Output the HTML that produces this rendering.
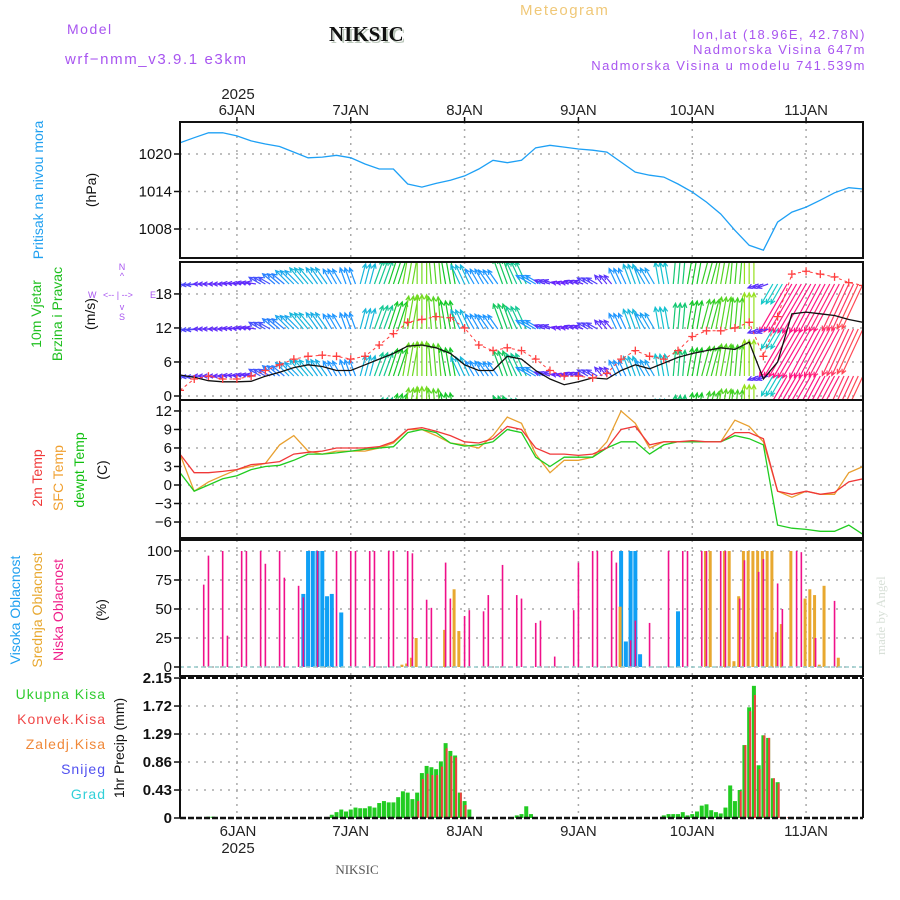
<!DOCTYPE html>
<html><head><meta charset="utf-8"><style>
body{margin:0;background:#fff}
svg{display:block;font-family:"Liberation Sans",sans-serif}
</style></head><body>
<svg id="c" width="900" height="900" viewBox="0 0 900 900" xmlns="http://www.w3.org/2000/svg">
<g>
<text x="67" y="34" font-size="14" fill="#a855f0" letter-spacing="1.5">Model</text>
<text x="65" y="64" font-size="15" fill="#a855f0" letter-spacing="1.6">wrf−nmm_v3.9.1 e3km</text>
<text x="331" y="43" font-size="21" font-weight="bold" font-family="Liberation Serif,serif" fill="#bcc8bc">NIKSIC</text>
<text x="329" y="41" font-size="21" font-weight="bold" font-family="Liberation Serif,serif" fill="#111">NIKSIC</text>
<text x="520" y="15" font-size="15" fill="#f0c878" letter-spacing="1.5">Meteogram</text>
<text x="866" y="39" font-size="13" fill="#a855f0" text-anchor="end" letter-spacing="1.5">lon,lat (18.96E, 42.78N)</text>
<text x="866" y="54" font-size="13" fill="#a855f0" text-anchor="end" letter-spacing="1.5">Nadmorska Visina 647m</text>
<text x="866" y="70" font-size="13" fill="#a855f0" text-anchor="end" letter-spacing="1.5">Nadmorska Visina u modelu 741.539m</text>
<text x="238" y="99" font-size="15" fill="#222" text-anchor="middle">2025</text>
<text x="238" y="836" font-size="15" fill="#222" text-anchor="middle">6JAN</text>
<text x="238" y="853" font-size="15" fill="#222" text-anchor="middle">2025</text>
<text x="357" y="874" font-size="13" font-family="Liberation Serif,serif" fill="#555" text-anchor="middle">NIKSIC</text>
<text transform="translate(885,655) rotate(-90)" font-size="13" font-family="Liberation Serif,serif" fill="#d8e0d8">made by Angel</text>
</g>
<g>
<text transform="translate(43,190) rotate(-90)" font-size="14" fill="#20a0f0" text-anchor="middle">Pritisak na nivou mora</text>
<text transform="translate(96,190) rotate(-90)" font-size="14" fill="#111" text-anchor="middle">(hPa)</text>
<text transform="translate(41,314) rotate(-90)" font-size="14" fill="#20c020" text-anchor="middle">10m Vjetar</text>
<text transform="translate(62,314) rotate(-90)" font-size="14" fill="#20c020" text-anchor="middle">Brzina i Pravac</text>
<text transform="translate(95,314) rotate(-90)" font-size="14" fill="#111" text-anchor="middle">(m/s)</text>
<g font-size="9" fill="#a855f0">
<text x="122" y="270" text-anchor="middle">N</text>
<text x="122" y="279" text-anchor="middle">^</text>
<text x="88" y="298">W</text>
<text x="103" y="298">&lt;-- | --&gt;</text>
<text x="150" y="298">E</text>
<text x="122" y="310" text-anchor="middle">v</text>
<text x="122" y="320" text-anchor="middle">S</text>
</g>
<text transform="translate(42,478) rotate(-90)" font-size="14" fill="#f03838" text-anchor="middle">2m Temp</text>
<text transform="translate(63,478) rotate(-90)" font-size="14" fill="#f0a030" text-anchor="middle">SFC Temp</text>
<text transform="translate(84,470) rotate(-90)" font-size="14" fill="#10c010" text-anchor="middle">dewpt Temp</text>
<text transform="translate(107,470) rotate(-90)" font-size="14" fill="#111" text-anchor="middle">(C)</text>
<text transform="translate(20,610) rotate(-90)" font-size="14" fill="#20a0f0" text-anchor="middle">Visoka Oblacnost</text>
<text transform="translate(42,610) rotate(-90)" font-size="14" fill="#e8a830" text-anchor="middle">Srednja Oblacnost</text>
<text transform="translate(63,610) rotate(-90)" font-size="14" fill="#f0208a" text-anchor="middle">Niska Oblacnost</text>
<text transform="translate(106,610) rotate(-90)" font-size="14" fill="#111" text-anchor="middle">(%)</text>
<g font-size="14" text-anchor="end" letter-spacing="1">
<text x="106" y="699" fill="#30cc30">Ukupna  Kisa</text>
<text x="106" y="724" fill="#f04848">Konvek.Kisa</text>
<text x="106" y="749" fill="#f08838">Zaledj.Kisa</text>
<text x="106" y="774" fill="#5050f0">Snijeg</text>
<text x="106" y="799" fill="#30d0d8">Grad</text>
</g>
<text transform="translate(124,748) rotate(-90)" font-size="14" fill="#111" text-anchor="middle">1hr Precip (mm)</text>
</g>
<g id="plot"></g>
</svg>
<script>
// ---- data (time index: hours since 5 JAN 12Z; 3-hourly arrays step 3h) ----
const dayLabels = ["6JAN","7JAN","8JAN","9JAN","10JAN","11JAN"];
const dayHours = [12,36,60,84,108,132];
const pressure = [1021.8,1022.6,1023.4,1023.4,1022.9,1022.1,1021.6,1021.2,1020.3,1019.4,1019.5,1019.8,1019.4,1018.4,1017.6,1017.6,1015.2,1014.7,1015.3,1015.8,1016.5,1017.6,1019.0,1018.6,1019.0,1021.0,1021.4,1021.1,1020.8,1020.6,1020.3,1018.7,1017.1,1016.6,1016.3,1015.2,1013.9,1012.3,1010.4,1007.8,1005.4,1004.6,1009.1,1010.7,1011.5,1012.6,1013.8,1014.6,1014.4];
const pressTicks = [1008,1014,1020];
const windSpeed = [3.7,3.3,2.7,2.5,2.5,2.6,3.5,4.2,5,5.5,5.2,4.5,4.5,5.5,6.5,7.5,8.8,9,8.5,7.5,5.5,4.5,4.5,7,6.5,4.5,3,2,2.5,3.2,3,4.5,5.5,4.8,5.8,6.8,7.5,8,8.5,8.2,9.5,3,6,14.5,14.8,14.5,14.2,13.5,13];
const windGust = [1,3,3.5,3,3,3.5,4.5,5.5,6.5,7,7.2,7,6.5,7,9,11,13,13.5,14,13.8,12,9,8,8.5,8,6.5,4.5,3.5,3.5,3.2,4,6.5,8,7,6.5,8,10.5,11.5,11.5,12,13,7,14,21.5,22,21.5,21,20,19.5];
const windDir = [185,185,180,180,175,170,150,140,135,130,125,120,110,75,70,72,80,90,95,100,115,120,125,110,115,150,160,165,160,150,130,115,110,120,100,85,80,75,80,85,90,200,240,240,240,242,242,245,245];
const windTicks = [0,6,12,18];
const temp2m = [5,2,2,2.2,2.5,3.3,3.5,3.8,5,5.3,5.5,6,6,6,6.2,7,9,9.3,8.7,8,7,6.8,7.5,9.5,9,6,5,5,4.8,5,6,9,9.5,6.5,7,7,7.2,7,7,8.5,8.5,7.5,-1,-1.5,-1,-1.5,-1.2,0.5,1];
const tempSfc = [5,-1,0.5,1.5,2.5,3,3.5,6.5,8,5.5,5,5.5,5.5,5.5,6,6.8,9,9,8,6.8,6.5,6,8,11,10,5,2,4,4,4.5,7,12,10,6,7,7,7,7,7,10.5,9.5,7,-1,-2,-1,-1.5,-1.5,2,3];
const tempDew = [2,-1,0,1,1.5,2.5,3,3.2,4,5,5,5.2,5.5,5.8,6,6.2,8.5,9,8.5,6.8,6.3,6.5,7,9,8.5,4.5,3,4.5,4.5,4.5,6,7,7,5,6.5,7,7,7,7,8,7.5,6.5,-6.5,-7,-7.2,-7.5,-7.5,-6.5,-8];
const tempTicks = [-6,-3,0,3,6,9,12];
const lowCloudH = [5,6,9,10,13,14,17,18,21,22,25,26,29,33,36,37,40,41,44,45,48,49,52,53,56,57,60,61,64,65,68,71,72,75,76,79,83,84,87,88,91,92,95,96,99,103,106,107,110,111,114,115,118,119,122,123,126,127,130,131,134,138];
const lowCloudV = [71,96,100,27,100,100,100,89,100,77,70,60,100,100,100,100,100,100,100,100,100,98,58,51,90,59,44,49,48,62,88,62,59,38,40,9,49,90,100,100,100,90,23,40,38,100,100,100,100,100,100,100,59,92,82,93,72,50,100,99,25,57];
const midCloudH = [47,48,49,50,56,58,59,93,111,112,115,116,117,118,119,120,121,122,123,124,125,126,127,129,132,133,134,135,136,139];
const midCloudV = [2,3,8,25,32,67,31,52,100,100,100,100,5,61,100,100,100,100,100,100,100,30,37,100,59,67,62,2,70,8];
const highCloudH = [26,27,28,29,30,31,32,34,93,94,95,96,97,105];
const highCloudV = [63,100,100,100,100,61,63,47,100,22,100,100,11,48];
const cloudTicks = [0,25,50,75,100];
const precipH = [6,7,32,33,34,35,36,37,38,39,40,41,42,43,44,45,46,47,48,49,50,51,52,53,54,55,56,57,58,59,60,61,71,72,73,74,102,103,104,105,106,107,108,109,110,111,112,113,114,115,116,117,118,119,120,121,122,123,124,125,126,127,128];
const precipTotal = [0.02,0.02,0.05,0.09,0.13,0.10,0.13,0.16,0.15,0.15,0.18,0.16,0.23,0.26,0.24,0.24,0.32,0.41,0.39,0.29,0.39,0.69,0.80,0.78,0.75,0.87,1.15,1.03,0.96,0.39,0.26,0.13,0.04,0.06,0.18,0.06,0.04,0.06,0.06,0.06,0.09,0.04,0.06,0.10,0.19,0.21,0.12,0.09,0.07,0.16,0.50,0.26,0.43,1.12,1.70,2.03,0.81,1.27,1.23,0.61,0.55,0,0];
const precipConv = [0,0,0,0,0,0,0,0,0,0,0,0,0,0,0,0,0,0,0,0.02,0.26,0.60,0.68,0.66,0.66,0.79,1.07,0.95,0.93,0.39,0.20,0,0,0,0,0,0,0,0,0,0,0,0,0,0,0,0,0,0,0,0,0,0.41,1.12,1.64,1.89,0.75,1.27,1.23,0.61,0.53,0.01,0.01];
const precipTicks = ["0","0.43","0.86","1.29","1.72","2.15"];

// ---- layout ----
const NS="http://www.w3.org/2000/svg";
const plot=document.getElementById('plot');
const X0=180,X1=863;
const xh=h=>X0+h*(X1-X0)/144;
const P1={t:122,b:258}, P2={t:262,b:400}, P3={t:400,b:538}, P4={t:540,b:676}, P5={t:678,b:818};
const yP=v=>154+(1020-v)*6.25;
const yW=v=>396-v*5.67;
const yT=v=>485-v*6.17;
const yC=v=>667-v*1.16;
const yR=v=>818-v*65.1;
function mk(tag,attrs,parent){const e=document.createElementNS(NS,tag);for(const k in attrs)e.setAttribute(k,attrs[k]);(parent||plot).appendChild(e);return e;}
function grid(p,ys,fmt,yf,name){
  const g=mk('g',{});
  
  
  dayHours.forEach(h=>{const l=mk('line',{x1:xh(h),x2:xh(h),y1:p.t,y2:p.b,stroke:'#aaa','stroke-width':1.5,'stroke-dasharray':'2,5'},g);
    
    });
  ys.forEach((v,i)=>{const y=yf(v);
    const l=mk('line',{x1:X0,x2:X1,y1:y,y2:y,stroke:'#aaa','stroke-width':1.5,'stroke-dasharray':'2,6'},g);
    
    
    mk('line',{x1:X0-6,x2:X0,y1:y,y2:y,stroke:'#111','stroke-width':1.5},g);
    const t=mk('text',{x:X0-8,y:y+5,'font-size':15,'text-anchor':'end',fill:'#111'},g);
    t.textContent=fmt(v,i);
    
    
  });
}
function frame(p,name){
  const r=mk('rect',{x:X0,y:p.t,width:X1-X0,height:p.b-p.t,fill:'none',stroke:'#111','stroke-width':2});
  
  
}
function clip(id,p){const d=mk('clipPath',{id:id});mk('rect',{x:X0,y:p.t,width:X1-X0,height:p.b-p.t},d);}
function linePath(arr,yf,color,name,parent){
  let d='';arr.forEach((v,i)=>{d+=(i?'L':'M')+xh(i*3).toFixed(1)+','+yf(v).toFixed(1);});
  const e=mk('path',{d:d,fill:'none',stroke:color,'stroke-width':1.3},parent);
  
  
  return e;
}
dayLabels.forEach((s,i)=>{
  const t=mk('text',{x:xh(dayHours[i]),y:115,'font-size':15,'text-anchor':'middle',fill:'#222'});
  t.textContent=s;
  
  
  mk('line',{x1:xh(dayHours[i]),x2:xh(dayHours[i]),y1:117,y2:122,stroke:'#111','stroke-width':1.5});
  if(i>0){const b=mk('text',{x:xh(dayHours[i]),y:836,'font-size':15,'text-anchor':'middle',fill:'#222'});
    b.textContent=s;
    
    }
});
// Panel 1 pressure
grid(P1,pressTicks,v=>String(v),yP,'pressure');
clip('c1',P1);
const g1=mk('g',{'clip-path':'url(#c1)'});
linePath(pressure,yP,'#1ea0f5','pressure-line',g1);
frame(P1,'pressure');
// Panel 2 wind
grid(P2,windTicks,v=>String(v),yW,'wind');
clip('c2',P2);
const g2=mk('g',{'clip-path':'url(#c2)'});


function spdColor(s){
  const st=[[0,[128,0,255]],[3,[90,50,250]],[4.5,[30,150,255]],[6,[20,200,200]],[7.5,[20,200,40]],[9.5,[150,225,30]],[11,[230,220,0]],[12.5,[255,90,70]],[14.5,[255,20,130]]];
  if(s<=st[0][0])return 'rgb('+st[0][1]+')';
  for(let i=1;i<st.length;i++){if(s<=st[i][0]){const f=(s-st[i-1][0])/(st[i][0]-st[i-1][0]);const a=st[i-1][1],b=st[i][1];return 'rgb('+a.map((v,k)=>Math.round(v+(b[k]-v)*f)).join(',')+')';}}
  return 'rgb('+st[st.length-1][1]+')';
}
const rows=[284,329,376,421];
rows.forEach(ry=>{
  windSpeed.forEach((s,i)=>{
    const a=windDir[i]*Math.PI/180,L=s*3.8;
    const c=spdColor(s);
    [-1,0,1].forEach(o=>{
      const h=i*3+o; if(h<0||h>144) return;
      const x=xh(h);
      const x2=x+L*Math.cos(a),y2=ry-L*Math.sin(a);
      const h1=a+Math.PI-0.45,h2=a+Math.PI+0.45;
      const ar=mk('path',{d:`M${x},${ry}L${x2},${y2}M${x2+5*Math.cos(h1)},${y2-5*Math.sin(h1)}L${x2},${y2}L${x2+5*Math.cos(h2)},${y2-5*Math.sin(h2)}`,stroke:c,'stroke-width':1.2,fill:'none'},g2);
      
      
    });
  });
});
linePath(windSpeed,yW,'#111','wind-speed-line',g2);
const gl=linePath(windGust,yW,'#ff4040','wind-gust-line',g2);gl.setAttribute('stroke-dasharray','3,3');gl.setAttribute('stroke-width','1');
windGust.forEach((v,i)=>{const x=xh(i*3),y=yW(v);
  const p=mk('path',{d:`M${x-4},${y}H${x+4}M${x},${y-4}V${y+4}`,stroke:'#ff4040','stroke-width':1.3},g2);
  
  });
frame(P2,'wind');
// Panel 3 temps
grid(P3,tempTicks,v=>v<0?'−'+(-v):String(v),yT,'temp');
clip('c3',P3);
const g3=mk('g',{'clip-path':'url(#c3)'});
linePath(tempSfc,yT,'#e8a030','sfc-temp-line',g3);
linePath(tempDew,yT,'#20cc20','dewpoint-line',g3);
linePath(temp2m,yT,'#f03838','t2m-line',g3);
frame(P3,'temp');
// Panel 4 clouds
grid(P4,cloudTicks,v=>String(v),yC,'cloud');
function bars(H,V,w,color,name,off){
  H.forEach((h,i)=>{const y=yC(V[i]);
    const r=mk('rect',{x:xh(h)-w/2+(off||0),y:y,width:w,height:667-y,fill:color});
    
    });
}
bars(highCloudH,highCloudV,4,'#10a0f5','high-cloud-bar');
bars(midCloudH,midCloudV,3,'#e8a830','mid-cloud-bar',-1);
bars(lowCloudH,lowCloudV,1.6,'#f0108a','low-cloud-bar');
mk('line',{x1:X0,x2:X1,y1:667,y2:667,stroke:'#9cc','stroke-width':1.5,'stroke-dasharray':'4,3'});
frame(P4,'cloud');
// Panel 5 precip
precipTicks.forEach((s,i)=>{const v=parseFloat(s),y=yR(v);
  if(i>0&&i<5){const l=mk('line',{x1:X0,x2:X1,y1:y,y2:y,stroke:'#aaa','stroke-width':1.5,'stroke-dasharray':'2,6'});
    
    }
  mk('line',{x1:X0-6,x2:X0,y1:y,y2:y,stroke:'#111','stroke-width':1.5});
  const t=mk('text',{x:X0-8,y:y+5,'font-size':15,'font-weight':'bold','text-anchor':'end',fill:'#111'});
  t.textContent=s;
  
  
});
dayHours.forEach(h=>{const l=mk('line',{x1:xh(h),x2:xh(h),y1:P5.t,y2:P5.b,stroke:'#aaa','stroke-width':1.5,'stroke-dasharray':'2,5'});
  
  });
precipH.forEach((h,i)=>{
  const x=xh(h);
  if(precipTotal[i]>0){const y=yR(precipTotal[i]);
    const r=mk('rect',{x:x-2,y:y,width:4,height:818-y,fill:'#22cc22'});
    
    }
  if(precipConv[i]>0){const y=yR(precipConv[i]);
    const r=mk('rect',{x:x,y:y,width:2,height:818-y,fill:'#f04040'});
    
    }
});
mk('line',{x1:X0,x2:X1,y1:P5.t,y2:P5.t,stroke:'#111','stroke-width':2,'stroke-dasharray':'6,2'});
mk('line',{x1:X0,x2:X1,y1:P5.b,y2:P5.b,stroke:'#111','stroke-width':2.5,'stroke-dasharray':'6,2'});
mk('line',{x1:X0,x2:X0,y1:P5.t,y2:P5.b,stroke:'#111','stroke-width':2});
mk('line',{x1:X1,x2:X1,y1:P5.t,y2:P5.b,stroke:'#111','stroke-width':2});
</script>
</body></html>
